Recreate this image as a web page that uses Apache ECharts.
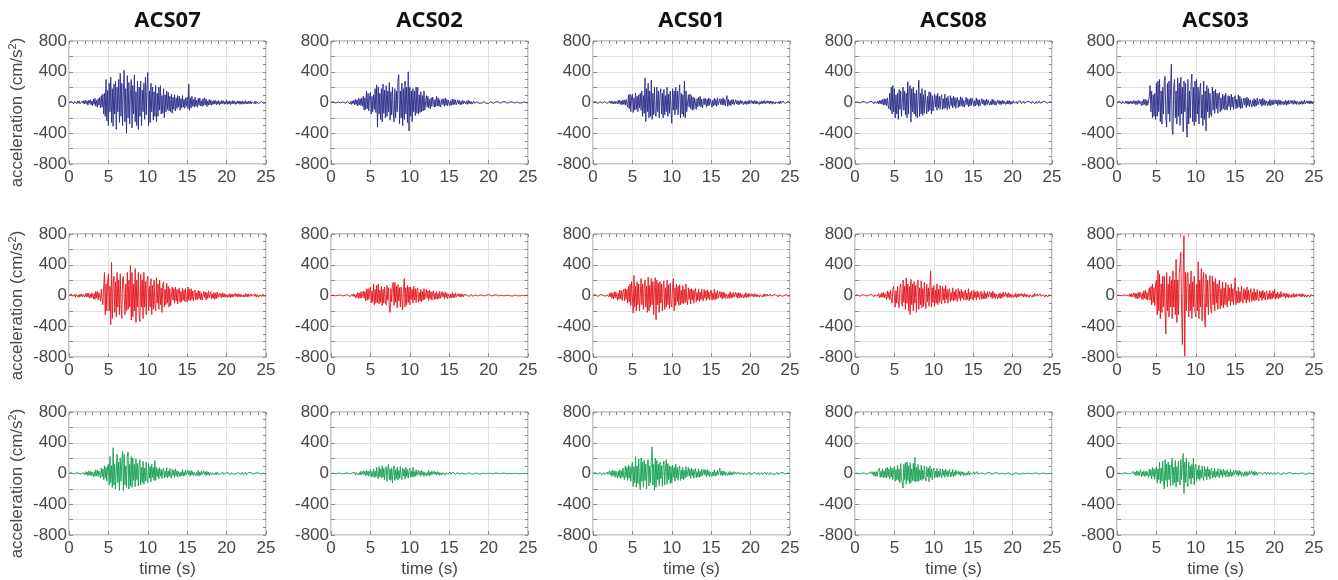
<!DOCTYPE html>
<html><head><meta charset="utf-8">
<script src="https://cdn.jsdelivr.net/npm/echarts@6/dist/echarts.min.js"></script>
<style>html,body{margin:0;padding:0;background:#fff}#c{width:1338px;height:580px}</style>
</head><body><div id="c"></div>
<script>
const titles = ['ACS07','ACS02','ACS01','ACS08','ACS03'];
const dt = 0.1;
const yTicks = [-800,-400,0,400,800];
const xTicks = [0,5,10,15,20,25];

// Row 1 (blue)
const b07 = [
0,8,-12,15,-6,10,-18,12,-9,14, -15,20,-8,22,-16,10,-25,18,-12,24,
-20,30,-14,22,-35,28,-10,36,-30,20, -40,45,-25,55,-48,30,-60,50,-35,65,
-70,90,-60,110,-150,120,-180,300,-240,160, -300,250,-120,330,-260,180,-310,240,-150,280,
-350,200,-120,300,-260,380,-180,250,-300,150, 420,-250,180,-400,350,-200,260,-280,120,300,
-330,220,-150,360,-250,140,-300,280,-350,200, -180,280,-300,160,-120,250,-220,330,-160,200,
390,-300,150,-260,250,-120,200,-230,140,-180, 220,-250,120,-180,200,-100,220,-150,90,-140,
180,-200,100,-120,150,-90,130,-110,80,-120, 110,-140,70,-90,100,-110,60,-80,90,-60,
80,-100,50,-70,90,-60,40,-75,60,-50, 70,-80,240,-100,60,-70,80,-50,40,-60,
70,-50,30,-60,55,-35,60,-45,25,-50, 50,-40,60,-30,45,-55,20,-35,40,-30,
30,-35,15,-25,30,-20,25,-30,18,-22, 25,-30,10,-20,28,-15,22,-25,12,-20,
35,-25,15,-20,22,-30,12,-18,25,-15, 20,-25,10,-18,22,-12,20,-25,15,-18,
20,-22,12,-15,25,-18,10,-20,18,-12, 18,-20,8,-15,22,-12,18,-20,10,-15,
18,-15,8,-20,15,-10,18,-12,8,-10, 0];
const b02 = [
0,5,-8,10,-6,12,-9,7,-12,8, -10,12,-6,15,-12,8,-14,10,-8,12,
-12,15,-8,18,-20,14,-25,20,-15,28, -30,40,-25,35,-45,55,-30,48,-40,60,
-50,80,-100,60,-90,150,-80,120,-110,90, 130,-150,80,-120,100,-90,180,-130,230,-320,
200,-150,120,-220,180,-250,240,-140,160,-200, 220,-180,150,-120,260,-230,140,-160,200,-130,
-250,180,-200,150,-120,300,360,-280,150,-200, 250,-300,180,-220,280,-150,200,-260,400,-370,
200,-180,150,-250,180,-120,150,-170,200,-140, 200,-150,100,-130,140,-120,90,-110,150,-100,
-100,90,-60,80,-70,40,-80,60,-50,70, 70,-60,40,-55,80,-45,60,-50,35,-60,
-55,50,-30,45,-50,60,-35,40,-45,30, 50,-40,25,-35,45,-30,40,-25,35,-30,
-30,35,-20,25,-30,15,-25,30,-18,20, 25,-20,15,-25,30,-15,20,-18,12,-22,
-15,18,-10,12,-15,8,-12,15,-10,10, 12,-10,8,-15,12,-6,10,-12,8,-10,
-12,10,-6,12,-10,8,-12,10,-5,8, 30,-15,10,-12,8,-10,12,-8,10,-12,
-10,12,-6,8,-10,12,-8,6,-10,8, 8,-10,5,-8,10,-6,8,-10,6,-8,
-8,10,-5,8,-6,10,-8,6,-5,6, 0];
const b01 = [
0,6,-10,12,-8,10,-14,8,-10,12, -12,15,-8,10,-15,12,-6,14,-12,10,
-15,18,-10,20,-14,16,-20,12,-18,15, 25,-20,30,-15,28,-25,20,-30,35,-22,
30,-35,40,-25,-60,100,-80,110,-120,70, 110,-130,60,-100,120,-90,80,-120,100,-70,
120,-100,150,-180,90,-140,320,-250,180,-120, 250,-200,150,-180,290,-220,120,-160,200,-140,
-180,200,-120,150,-200,100,180,-150,120,-200, 170,-160,90,-120,200,-180,110,-140,150,-100,
-270,180,-100,150,-160,200,-90,150,-160,120, 230,-200,120,-150,100,-180,280,-200,150,-120,
-120,100,-60,110,-80,90,-100,70,-90,60, 80,-90,50,-60,70,-40,80,-60,45,-70,
-60,55,-30,50,-60,40,-45,60,-35,45, 50,-60,30,-45,55,-35,40,-50,60,-30,
-40,50,-25,45,-35,60,-30,40,-45,30, 90,-50,40,-35,25,-40,35,-20,40,-30,
-30,35,-18,25,-30,20,-25,30,-15,22, 25,-30,12,-20,22,-25,15,-18,30,-15,
-25,28,-12,20,-18,25,-15,22,-20,12, 20,-25,10,-18,22,-15,20,-12,25,-18,
-20,22,-10,18,-15,20,-12,18,-22,10, 18,-20,8,-15,18,-12,15,-18,20,-10,
-15,18,-8,12,-15,10,-12,15,-8,10, 0];
const b08 = [
0,6,-10,8,-5,10,-8,6,-12,8, 10,-8,12,-6,15,-10,8,-12,10,-8,
-12,15,-8,12,-18,10,-15,18,-10,20, -18,25,-15,30,-20,40,-35,50,-30,45,
-45,60,-40,-80,120,-100,200,-150,220,-120, 180,-200,100,-150,120,-220,170,-90,150,-180,
-180,200,-100,150,-160,120,-200,270,-150,180, 220,-255,180,-120,200,-150,120,-180,160,-200,
-200,290,-180,120,-150,180,-170,100,-140,160, 160,-150,80,-120,140,-100,130,-150,90,-110,
-120,110,-60,90,-100,120,-70,80,-90,60, 100,-90,50,-80,110,-70,60,-90,80,-50,
-80,90,-40,60,-70,85,-50,65,-75,40, 70,-65,35,-50,75,-40,60,-55,30,-60,
-60,70,-30,50,-55,40,-45,60,-35,50, 55,-50,25,-45,60,-30,40,-50,35,-40,
-45,50,-20,35,-40,30,-35,45,-25,30, 40,-35,20,-30,45,-25,35,-30,15,-35,
-30,35,-15,25,-28,20,-25,30,-18,20, 30,-25,12,-20,28,-18,22,-25,15,-20,
-20,22,-10,15,-18,12,-20,15,-10,12, 18,-15,8,-12,20,-10,15,-18,10,-12,
-15,18,-8,12,-12,15,-10,12,-18,8, 15,-12,8,-10,18,-10,12,-15,8,-10,
-12,15,-6,10,-10,12,-8,10,-6,8, 0];
const b03 = [
0,10,-15,18,-8,12,-20,15,-10,18, -15,20,-10,18,-22,12,-18,20,-12,15,
-20,25,-12,22,-28,18,-25,30,-15,22, 30,-40,20,-35,45,-25,40,-45,30,-35,
-60,80,220,-120,150,-200,100,-180,120,-220, 250,-180,280,-120,300,-250,150,-280,200,-150,
280,340,-200,-320,250,-150,280,-250,180,500, -350,-417,200,300,-200,150,-280,320,-180,250,
-300,330,-150,200,-380,280,-120,250,-250,-450, 300,-280,150,-200,250,370,-250,200,-300,280,
-250,300,-150,200,-280,150,250,-200,100,-300, 280,-220,150,-370,220,-120,180,-200,120,-150,
-180,200,-100,150,-140,170,-80,120,-140,100, 130,-120,60,-100,110,-80,90,-100,120,-70,
-100,90,-50,80,-100,110,-60,70,-90,50, 90,-80,40,-70,100,-60,80,-80,50,-70,
-70,60,-35,55,-65,70,-40,50,-55,35, 55,-60,30,-45,50,-55,35,-40,60,-30,
-50,45,-25,40,-50,55,-30,35,-40,25, 45,-40,20,-35,40,-45,25,-30,35,-25,
-40,35,-20,30,-40,35,-25,30,-30,20, 35,-30,15,-25,30,-35,20,-25,30,-20,
-30,28,-15,22,-25,30,-18,20,-25,15, 25,-28,12,-20,22,-25,15,-20,30,-15,
-25,22,-10,18,-20,25,-15,18,-20,12, 0];

// Row 2 (red)
const r07 = [
0,10,-15,20,-8,15,-18,12,-20,15, 20,-18,10,-22,16,-12,22,-20,12,25,
-22,25,-15,30,-20,28,-35,18,-30,35, 40,-45,25,-50,55,-30,50,-55,35,60,
-70,80,-50,-120,100,300,-250,150,-200,180, 280,-200,120,-380,430,-300,150,250,-220,180,
-280,300,-150,200,-250,280,-120,-300,200,250, 270,-250,150,-200,300,-180,200,-150,390,-320,
300,-280,150,-200,350,-350,200,-150,300,-250, -340,280,-150,200,-300,300,-150,180,-250,200,
250,-200,120,-150,220,-250,130,-180,200,-120, -200,230,-100,150,-180,200,-120,100,-220,140,
180,-150,80,-120,160,-100,120,-150,90,-130, -130,110,-60,90,-100,110,-70,80,-110,60,
100,-90,50,-80,95,-60,70,-80,90,-50, -85,110,-60,80,-70,90,-50,60,-70,40,
70,-60,35,-50,65,-40,55,-55,30,-60, -50,55,-25,45,-60,35,-40,60,-30,-50,
50,-45,20,-35,40,-50,30,-40,45,-25, -35,30,-15,25,-30,35,-20,25,-25,15,
30,-28,12,-20,25,-30,15,-22,20,-15, -25,28,-12,20,-22,25,-15,18,-20,12,
22,-20,10,-18,25,-15,18,-20,22,-12, -20,22,-10,15,-18,20,-12,18,-22,10,
18,-20,8,-15,15,-12,18,-10,15,-8, 0];
const r02 = [
0,4,-6,5,-3,6,-5,4,-6,5, 6,-8,4,-5,8,-6,5,-7,4,8,
-6,10,-5,12,-15,8,-20,15,-12,20, 25,-30,15,-25,40,-35,30,-40,50,-30,
-45,60,-35,50,-70,80,-60,90,-50,70, 110,-100,60,-80,150,-120,80,-100,130,-90,
150,-110,70,-90,120,-130,80,-100,110,-70, -120,130,-60,100,-150,-220,90,-80,140,170,
-130,170,-90,120,-160,140,-70,100,-150,110, 120,-190,80,220,-150,100,-120,130,-90,110,
-120,110,-50,80,-100,120,-60,90,-90,70, 100,-90,40,-70,80,-85,50,-60,90,-50,
-70,80,-35,60,-65,70,-40,50,-60,30, 60,-55,30,-45,50,-50,25,-40,55,-35,
-45,50,-20,35,-40,45,-25,30,-40,20, 40,-35,18,-30,40,-30,20,-25,35,-20,
-25,25,-12,20,-20,22,-15,18,-18,10, 18,-15,8,-12,18,-14,10,-12,15,-8,
-12,14,-6,10,-10,12,-8,10,-10,6, 10,-12,5,-8,10,-8,6,-10,10,-5,
-8,10,-4,6,-8,8,-5,6,-8,4, 8,-8,4,-6,7,-8,5,-6,6,-4,
-6,8,-3,5,-6,7,-4,5,-6,3, 6,-7,3,-5,6,-5,4,-5,6,-3,
-5,6,-3,4,-5,5,-3,4,-4,3, 0];
const r01 = [
0,8,-12,15,-6,12,-15,10,-8,12, 15,-12,8,-15,18,-10,15,-12,8,-15,
-20,30,-15,40,-35,25,-45,50,-30,45, 55,-60,30,-50,70,-40,65,-65,40,80,
-70,90,-50,80,-100,120,-80,150,-130,180, 200,-230,260,-150,120,-200,180,-120,150,-200,
-200,220,-120,150,-180,100,200,-150,120,-220, 240,-200,130,-150,220,-120,180,-250,100,230,
-315,200,-120,160,-220,180,-100,150,-200,120, 190,-180,100,-150,200,-120,140,-170,160,-100,
-150,120,220,-200,100,-130,150,-80,120,-130, 140,-120,70,-100,130,-110,80,-90,150,-70,
-120,100,-50,80,-110,90,-60,70,-100,50, 90,-80,40,-60,85,-75,45,-55,80,-40,
-70,80,-35,60,-65,75,-40,50,-60,30, 70,-60,30,-50,80,-55,40,-45,65,-35,
-50,55,-25,40,-45,50,-30,35,-40,20, 45,-40,20,-35,50,-35,25,-30,40,-20,
-40,45,-20,30,-35,40,-25,30,-30,15, 35,-30,15,-25,35,-28,20,-22,30,-15,
-25,22,-10,18,-20,25,-12,15,-20,10, 20,-22,10,-15,18,-20,12,-15,22,-10,
-18,20,-8,12,-15,18,-10,12,-20,8, 18,-15,8,-12,20,-18,10,-12,15,-8,
-15,18,-6,10,-12,15,-8,10,-12,6, 0];
const r08 = [
0,8,-12,10,-6,15,-10,8,-12,10, 10,-15,6,-10,12,-8,15,-10,8,-15,
-12,15,-8,12,-18,10,-15,20,-10,15, 25,-30,15,-25,35,-20,40,-30,25,45,
-50,60,-30,45,-55,70,-40,-100,80,120, 130,-150,60,-100,120,-90,-160,100,150,-80,
-140,200,-90,120,-180,230,-100,150,-200,120, -250,210,-120,150,-200,180,-100,130,-220,160,
200,-180,100,-120,190,-160,90,-140,170,-100, -170,150,-80,100,-140,120,320,-150,100,-90,
130,-140,70,-100,150,-120,80,-90,130,-60, -110,120,-60,90,-100,130,-50,80,-100,50,
90,-80,40,-60,100,-70,50,-60,80,-40, -80,90,-40,60,-70,80,-35,50,-60,30,
70,-60,30,-50,90,-70,40,-45,60,-30, -60,70,-30,45,-55,60,-25,40,-50,25,
55,-50,25,-40,60,-45,30,-35,50,-20, -45,50,-20,35,-40,55,-25,30,-40,20,
40,-45,20,-30,35,-40,20,-25,45,-15, -35,40,-15,25,-30,35,-18,22,-30,12,
30,-25,12,-20,28,-30,15,-18,25,-10, -25,28,-10,18,-22,25,-12,15,-20,10,
22,-25,10,-15,20,-22,12,-15,25,-10, -20,22,-8,15,-18,20,-10,12,-18,8,
18,-20,8,-12,15,-18,10,-12,15,-6, 0];
const r03 = [
0,3,-5,4,-3,6,-5,4,-6,5, 8,-10,6,-12,15,-8,20,-15,25,-20,
-30,35,-20,30,-40,25,-45,40,-30,45, 50,-40,30,-55,60,-35,70,-50,40,-60,
-80,100,-60,120,-120,150,-90,100,-130,150, 200,-250,330,-200,280,-300,150,-220,250,-150,
250,-180,-500,300,-200,150,-280,250,-150,200, -300,320,-150,200,-250,470,-350,200,-250,300,
400,560,-200,-640,300,780,-790,300,-200,250, 300,-280,150,-200,320,-300,180,-150,250,-200,
-280,150,-200,440,-300,200,-150,350,-330,200, 300,-250,-413,280,-150,200,-250,150,260,-180,
-230,250,-120,180,-200,220,-100,150,-180,120, 200,-170,90,-130,180,-160,100,-120,170,-90,
-150,140,-70,100,-130,150,-80,90,-120,60, 230,-120,60,-90,110,-100,50,-80,120,-60,
-100,90,-50,70,-100,110,-60,70,-90,40, 90,-80,40,-60,90,-70,45,-55,80,-40,
-70,60,-30,50,-65,70,-35,45,-60,30, 60,-55,25,-45,65,-50,30,-40,60,-25,
80,-50,25,-35,45,-40,20,-30,50,-20, -35,30,-15,25,-35,30,-18,22,-30,12,
30,-25,12,-20,28,-25,15,-18,22,-10, -25,22,-10,18,-20,25,-12,15,-20,8,
20,-22,8,-15,18,-20,10,-12,15,-6, 0];

// Row 3 (green)
const g07 = [
0,6,-10,12,-5,15,-8,10,-12,8, 12,-15,6,-10,15,-8,10,-18,12,15,
-20,25,-12,20,-30,35,-20,28,-30,22, 40,-45,25,-35,50,-30,40,-40,30,55,
-60,70,-40,60,-80,100,-60,80,-100,90, 120,-150,220,-120,100,-180,335,-150,120,-200,
-200,250,-120,150,-220,200,-100,150,290,-222, 250,-150,100,-180,220,280,-200,120,-160,220,
-180,200,-90,120,-170,190,-80,130,-160,110, 180,-150,80,-120,160,-140,70,-100,150,-90,
-120,130,-60,90,-110,120,-50,80,-90,170, -90,80,-40,60,-70,75,-35,50,-65,40,
70,-60,30,-45,75,-55,35,-40,65,-30, -60,55,-25,40,-50,60,-30,35,-45,25,
45,-40,20,-30,50,-35,25,-28,40,-20, -40,45,-18,30,-35,40,-20,25,-30,15,
35,-30,15,-25,40,-35,18,-22,30,-15, -30,35,-12,22,-28,30,-15,20,-25,12,
22,-20,10,-15,25,-18,12,-15,20,-8, -20,18,-8,12,-22,20,-10,12,-15,8,
18,-15,8,-12,20,-18,10,-12,15,-6, -15,18,-6,10,-12,15,-8,10,-18,6,
15,-12,6,-10,18,-15,8,-10,12,-5, -12,15,-5,8,-10,12,-6,8,-10,5,
10,-12,5,-8,10,-8,5,-6,10,-4, 0];
const g02 = [
0,3,-5,4,-3,5,-6,4,-5,6, 6,-5,3,-6,8,-4,6,-5,4,5,
-8,10,-5,8,-10,12,-6,10,-8,6, 15,-20,10,-15,25,-18,12,-20,30,-15,
-25,35,-15,25,-30,40,-20,30,-35,20, 50,-45,25,-40,60,-55,30,-45,80,-40,
-70,90,-40,60,-60,100,-50,70,-80,50, 90,-100,50,120,-80,60,-90,70,-120,60,
100,-90,50,-70,80,-85,40,-60,90,-50, -80,70,-35,55,-75,80,-40,50,-60,35,
70,-50,30,-45,80,-45,25,-35,50,-25, -40,45,-20,30,-35,40,-18,25,-35,15,
35,-30,15,-25,40,-30,18,-22,35,-12, -25,30,-12,20,-22,25,-12,18,-25,10,
22,-20,10,-15,25,-18,10,-12,20,-8, -18,20,-8,12,-15,18,-8,10,-15,6,
12,-10,5,-8,15,-10,6,-8,12,-4, -10,12,-4,8,-8,10,-5,6,-8,3,
8,-10,4,-6,8,-7,4,-5,8,-3, -7,8,-3,5,-6,7,-3,4,-6,2,
6,-7,3,-4,5,-6,3,-4,6,-2, -5,6,-2,4,-5,5,-3,4,-6,2,
5,-5,2,-4,6,-4,2,-3,5,-2, -4,5,-2,3,-4,4,-2,3,-5,2,
4,-4,2,-3,3,-4,2,-2,3,-1, 0];
const g01 = [
0,6,-10,12,-5,15,-12,8,-10,12, 15,-18,8,-12,12,-15,10,-12,20,-10,
-25,35,-20,30,-40,45,-25,35,-50,30, 55,-60,30,-45,50,-65,35,-50,70,-40,
-80,100,-50,80,-90,110,-60,90,-100,70, 150,-170,90,-120,220,-180,100,-130,190,-120,
-210,200,-100,150,-180,170,-90,120,-200,140, 180,-160,100,-120,150,348,-150,120,-220,200,
-180,170,-80,120,-160,150,-70,100,-170,110, 160,-150,70,180,-140,130,-80,100,-130,90,
-120,110,-50,80,-100,120,-60,80,-90,50, 100,-90,45,-70,80,-85,40,-60,90,-45,
-70,80,-35,55,-65,70,-30,50,-60,30, 65,-55,25,-45,60,-50,30,-40,55,-25,
-50,55,-20,40,-45,50,-25,35,-40,20, 45,-40,20,-30,50,-35,18,-25,40,-18,
-35,70,-20,30,-30,35,-15,25,-28,15, 30,-25,12,-20,28,-22,12,-18,25,-10,
-22,20,-10,15,-18,22,-10,15,-20,8, 18,-20,8,-12,15,-18,8,-12,20,-8,
-18,15,-8,12,-20,18,-8,12,-15,6, 15,-18,6,-10,12,-15,8,-10,18,-6,
-15,12,-6,10,-15,12,-6,8,-10,5, 12,-10,5,-8,15,-12,6,-8,10,-4,
-10,12,-4,8,-8,10,-4,6,-8,3, 0];
const g08 = [
0,5,-8,6,-4,8,-6,5,-8,6, 10,-8,4,-6,12,-10,6,-8,8,-5,
-15,20,-10,25,-30,20,-35,25,-40,30, 35,70,-50,30,-45,60,-55,35,-50,70,
-60,80,-40,60,-70,90,-45,70,-80,50, 90,-100,50,-80,110,-90,60,-120,130,-70,
-120,-190,120,-80,140,-140,150,-90,100,-130, 140,-120,60,-90,130,-100,210,-110,80,-100,
120,-100,50,-80,110,-90,45,-70,100,-50, -100,90,-45,70,-110,100,-50,60,-80,40,
70,-60,30,-45,65,-55,30,-40,60,-25, -55,60,-25,40,-50,55,-25,35,-45,20,
50,-45,20,-35,55,-40,22,-30,45,-15, -35,30,-15,22,-32,28,-12,20,-30,10,
28,-25,12,-18,30,-22,10,-15,25,-8, -25,22,-10,15,-20,25,-10,15,-18,6,
15,-12,6,-10,14,-10,6,-8,12,-5, -12,14,-5,10,-10,12,-5,8,-10,4,
10,-12,5,-8,10,-8,4,-6,12,-4, -10,12,-4,8,-8,10,-4,6,-12,3,
10,-8,4,-6,12,-10,4,-6,8,-3, -8,10,-3,6,-8,8,-4,5,-10,3,
8,-10,3,-6,8,-6,3,-5,8,-2, -8,6,-3,5,-8,6,-3,4,-6,2,
6,-8,2,-5,5,-6,2,-4,5,-2, 0];
const g03 = [
0,5,-8,6,-4,8,-10,6,-8,10, 10,-8,5,-10,12,-6,8,-10,6,8,
-15,25,-12,20,-30,35,-18,25,-30,20, 50,-40,20,-30,35,-40,25,-30,30,-20,
-50,60,-30,50,-70,80,-40,60,-75,40, 90,-120,60,-80,150,-130,70,-100,160,-90,
-200,180,-90,120,-170,150,-80,110,-160,100, 200,-150,80,-120,170,-180,90,-110,160,-100,
-150,180,-80,120,260,-260,150,-120,200,-100, -170,150,-70,100,-140,120,-60,200,-150,80,
120,-100,50,-70,110,-90,45,-60,100,-40, -90,95,-40,60,-80,90,-40,55,-75,30,
70,-60,30,-45,65,-55,25,-40,60,-25, -55,60,-25,40,-50,55,-22,35,-45,20,
50,-45,20,-35,55,-40,18,-30,45,-15, -40,45,-18,30,-35,40,-15,25,-35,12,
35,-40,15,-25,30,-35,15,-20,30,-10, -30,35,-12,22,-28,30,-12,18,-25,8,
20,-18,8,-12,20,-15,8,-12,18,-6, -15,18,-6,10,-12,15,-6,10,-15,5,
15,-12,5,-8,15,-10,5,-8,12,-4, -12,15,-5,8,-10,12,-5,8,-12,4,
12,-10,4,-6,12,-8,4,-6,10,-3, -10,12,-4,6,-8,10,-4,6,-8,3,
8,-10,3,-5,8,-6,3,-4,8,-2, 0];

const rows = [[b07,b02,b01,b08,b03],[r07,r02,r01,r08,r03],[g07,g02,g01,g08,g03]];
const colors = ['#2a2a8a','#e6141c','#13a04f'];

const colLeft = [69, 331, 593, 855, 1117];
const rowTop = [41, 234, 412];
const W = 197, H = 123;
const axisGray = '#8c8c8c';
const labelColor = '#474747';
const FONT = 'Liberation Sans';

const grid=[], xAxis=[], yAxis=[], series=[], graphic=[];
rows.forEach((rowData, r) => {
  rowData.forEach((vals, c) => {
    const gi = grid.length;
    grid.push({left: colLeft[c], top: rowTop[r], width: W, height: H,
      show: true, borderColor: axisGray, borderWidth: 1, backgroundColor: '#fff'});
    const tick = (len) => ({show:true, inside:true, length:len, lineStyle:{color:axisGray}});
    const noLine = {show:false, onZero:false};
    xAxis.push({type:'value', gridIndex: gi, min: 0, max: 25, interval: 5, position:'bottom',
      axisLine: noLine, axisTick: tick(4),
      axisLabel:{show:true, color: labelColor, fontSize:17, fontFamily: FONT, margin:5},
      splitLine:{show:true, lineStyle:{color:'#e2e2e2', width:1}}});
    xAxis.push({type:'value', gridIndex: gi, min: 0, max: 25, interval: 1, position:'top',
      axisLine: noLine, axisTick: tick(3), axisLabel:{show:false}, splitLine:{show:false}});
    yAxis.push({type:'value', gridIndex: gi, min: -800, max: 800, interval: 200, position:'left',
      axisLine: noLine, axisTick: tick(4),
      axisLabel:{show:true, color: labelColor, fontSize:17, fontFamily: FONT, margin:2,
        formatter: v => yTicks.indexOf(v) >= 0 ? String(v) : ''},
      splitLine:{show:true, lineStyle:{color:'#e2e2e2', width:1}}});
    yAxis.push({type:'value', gridIndex: gi, min: -800, max: 800, interval: 100, position:'right',
      axisLine: noLine, axisTick: tick(3), axisLabel:{show:false}, splitLine:{show:false}});
    series.push({type:'line', xAxisIndex: 2*gi, yAxisIndex: 2*gi,
      data: vals.map((v,i) => [+(i*dt).toFixed(2), v]),
      showSymbol:false, symbol:'none', sampling: null, animation:false,
      lineStyle:{color: colors[r], width: 0.9}, silent:true, z:3});
    if (r === 0) {
      graphic.push({type:'text', x: colLeft[c] + W/2, y: 21,
        style:{text: titles[c], align:'center', verticalAlign:'middle', font: 'bold 22px "Open Sans"', fill:'#111'}});
    }
    if (r === 2) {
      graphic.push({type:'text', x: colLeft[c] + W/2, y: 569,
        style:{text: 'time (s)', align:'center', verticalAlign:'middle', font: '17px ' + FONT, fill: labelColor}});
    }
  });
  graphic.push({type:'text', x: 17, y: rowTop[r] + H/2 + 10, rotation: Math.PI/2,
    style:{text: '{a|acceleration (cm/s}{s|2}{a|)}', align:'center', verticalAlign:'middle',
      rich:{a:{fontSize:17, fontFamily: FONT, fill: labelColor},
            s:{fontSize:11, fontFamily: FONT, fill: labelColor, padding:[0,0,8,0]}}}});
});

const chart = echarts.init(document.getElementById('c'), null, {renderer:'canvas'});
chart.setOption({animation:false, backgroundColor:'#fff', grid, xAxis, yAxis, series, graphic});
</script></body></html>
